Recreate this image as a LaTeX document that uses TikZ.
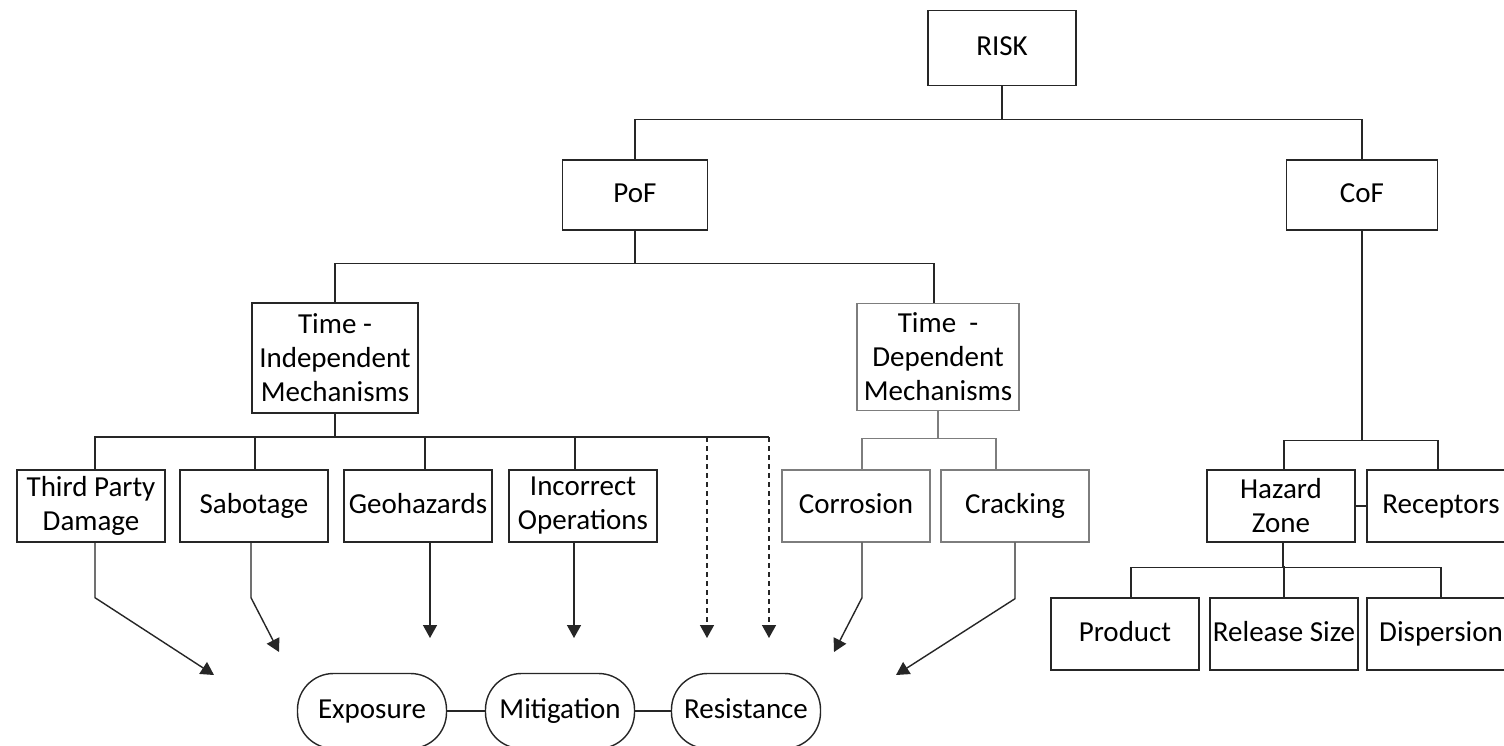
\documentclass[tikz,border=0pt]{standalone}
\usepackage{fontspec}
\setmainfont{Carlito}
\usetikzlibrary{arrows.meta}
\definecolor{riskcolor0000}{RGB}{38,38,38}
\definecolor{riskcolor0001}{RGB}{125,125,125}

\begin{document}
\begin{tikzpicture}[yscale=-1,x=0.5pt,y=0.5pt
,bstyle0/.style={draw=riskcolor0000,line width=0.7pt,fill=white,text=black,font=\fontsize{14.5}{17}\selectfont,align=center,inner sep=0pt,minimum width=74pt,minimum height=36pt}
,bstyle1/.style={bstyle0,draw=riskcolor0001}
,bstyle2/.style={bstyle0,rounded corners=18pt,minimum width=74.5pt,minimum height=37.5pt}
,oneline/.style={text height=10pt,text depth=3pt}
,pstyle0/.style={color=riskcolor0000,line width=0.7pt}
,pstyle1/.style={pstyle0,-{Triangle[length=6.5pt,width=7pt]}}
,pstyle2/.style={pstyle1,dash pattern=on 2.5pt off 2pt}
,pstyle3/.style={color=riskcolor0001,line width=0.7pt}
]
\clip (0,0) rectangle (1504,745);
\fill[white] (0,0) rectangle (1504,745);
% top levels
\node[bstyle0,oneline,minimum height=37.5pt] (risk) at (1002,48) {RISK};
\node[bstyle0,oneline,minimum width=72.5pt,minimum height=35pt] (pof) at (635,195) {PoF};
\node[bstyle0,oneline,minimum width=75.5pt,minimum height=35pt] (cof) at (1362,195) {CoF};
\node[bstyle0,minimum width=83pt,minimum height=55pt] (tind) at (335,358) {Time -\\Independent\\Mechanisms};
\node[bstyle1,minimum width=81pt,minimum height=53.5pt] (tdep) at (938,357) {Time\ \ -\\Dependent\\Mechanisms};
% mechanisms
\node[bstyle0] (tpd) at (91,506) {Third Party\\Damage};
\node[bstyle0,oneline] (sabo) at (254,506) {Sabotage};
\node[bstyle0,oneline] (geo) at (418,506) {Geohazards};
\node[bstyle0] (incop) at (583,506) {Incorrect\\Operations};
\node[bstyle1,oneline] (corr) at (856,506) {Corrosion};
\node[bstyle1,oneline] (crack) at (1015,506) {Cracking};
% consequences
\node[bstyle0] (hzone) at (1281,506) {Hazard\\Zone};
\node[bstyle0,oneline] (recep) at (1441,506) {Receptors};
\node[bstyle0,oneline] (prod) at (1125,634) {Product};
\node[bstyle0,oneline] (rsize) at (1284,634) {Release Size};
\node[bstyle0,oneline] (disp) at (1441,634) {Dispersion};
% factors
\node[bstyle2,oneline] (expo) at (372,711) {Exposure};
\node[bstyle2,oneline] (miti) at (560,711) {Mitigation};
\node[bstyle2,oneline] (resi) at (746,711) {Resistance};
% tree lines
\draw[pstyle0] (risk.south) -- ++(0,33) coordinate (rbar);
\draw[pstyle0] (pof.north) |- (rbar) -| (cof.north);
\draw[pstyle0] (pof.south) -- ++(0,33) coordinate (pbar);
\draw[pstyle0] (tind.north) |- (pbar) -| ([xshift=-2pt]tdep.north);
\draw[pstyle0] (tind.south) -- ++(0,24) coordinate (tbar);
\coordinate (d1) at (707,437);
\coordinate (d2) at (769,437);
\draw[pstyle0] ([xshift=2pt]tpd.north) |- (d2);
\draw[pstyle0] ([xshift=0.5pt]sabo.north) -- ++(0,-33);
\draw[pstyle0] ([xshift=3.5pt]geo.north) -- ++(0,-33);
\draw[pstyle0] ([xshift=-4pt]incop.north) -- ++(0,-33);
\draw[pstyle3] (tdep.south) -- ++(0,27) coordinate (dbar);
\draw[pstyle3] ([xshift=3pt]corr.north) |- (dbar) -| ([xshift=-9.5pt]crack.north);
% arrows to factors
\coordinate (atpd) at (214,675);
\coordinate (asabo) at (279,652);
\coordinate (ageo) at (430,638);
\coordinate (aincop) at (574,638);
\coordinate (ad1) at (707,638);
\coordinate (ad2) at (769,638);
\coordinate (acorr) at (834,652);
\coordinate (acrack) at (896,675);
\draw[pstyle1] ([xshift=2pt]tpd.south) -- ++(0,55) -- (atpd);
\draw[pstyle1] ([xshift=-1.5pt]sabo.south) -- ++(0,55) -- (asabo);
\draw[pstyle1] (geo.south -| ageo) -- (ageo);
\draw[pstyle1] (incop.south -| aincop) -- (aincop);
\draw[pstyle2] (d1) -- (ad1);
\draw[pstyle2] (d2) -- (ad2);
\draw[pstyle1] ([xshift=3pt]corr.south) -- ++(0,55) -- (acorr);
\draw[pstyle1] (crack.south) -- ++(0,56) -- (acrack);
\draw[pstyle0] (expo.east) -- (miti.west);
\draw[pstyle0] (miti.east) -- (resi.west);
% consequence side
\draw[pstyle0] (cof.south) -- ++(0,210) coordinate (cbar);
\draw[pstyle0] ([xshift=1.5pt]hzone.north) |- (cbar) -| ([xshift=-1.5pt]recep.north);
\draw[pstyle0] (hzone.east) -- (recep.west);
\draw[pstyle0] ([xshift=1pt]hzone.south) -- ++(0,25) coordinate (hbar);
\draw[pstyle0] ([xshift=3pt]prod.north) |- (hbar) -| (disp.north);
\draw[pstyle0] (rsize.north) -- ++(0,-31);
\end{tikzpicture}
\end{document}
